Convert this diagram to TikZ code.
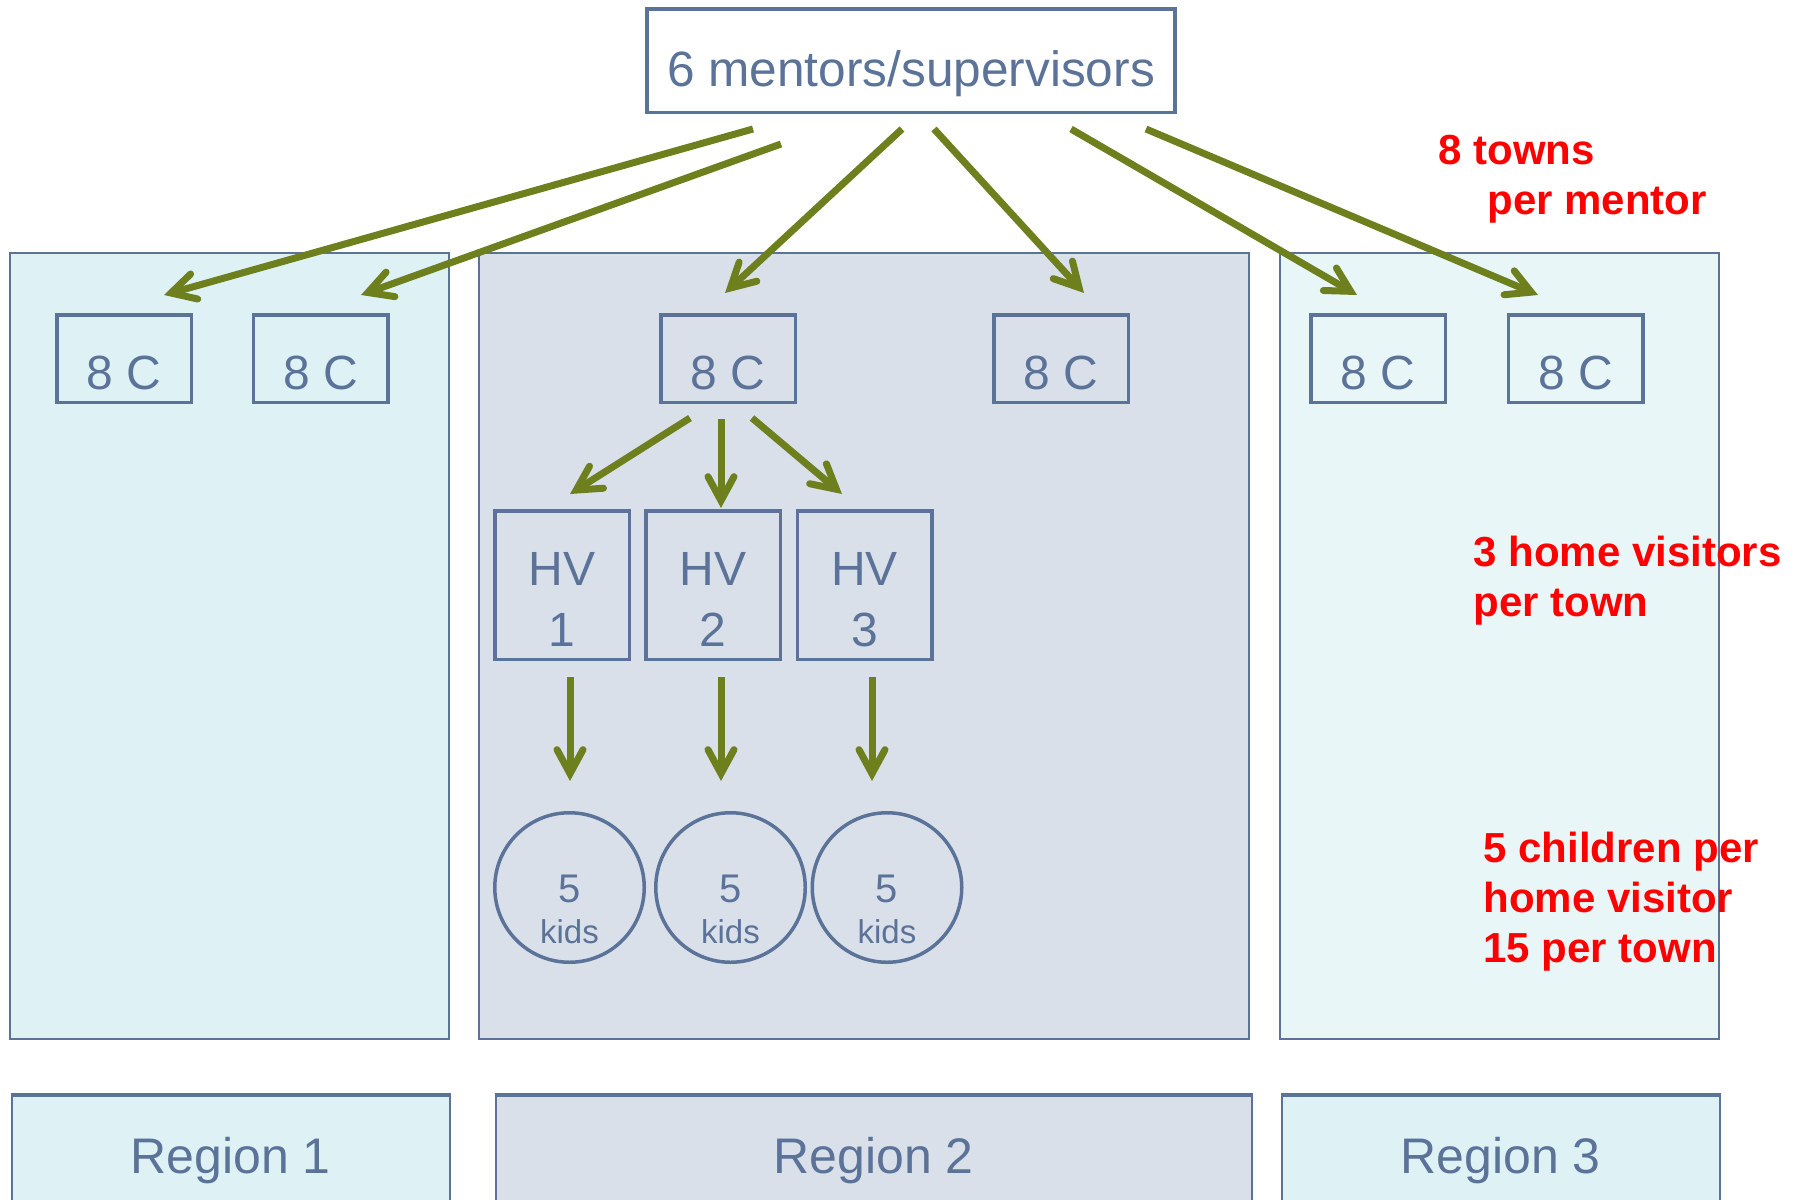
\documentclass[tikz,border=0pt]{standalone}
\usepackage{fontspec}
\setmainfont{Liberation Sans}
\usetikzlibrary{arrows.meta,calc}
\definecolor{bl}{RGB}{91,115,153}
\definecolor{olv}{RGB}{110,128,30}
\definecolor{cyanA}{RGB}{222,242,245}
\definecolor{cyanB}{RGB}{232,246,248}
\definecolor{greyB}{RGB}{217,224,234}
\definecolor{redT}{RGB}{255,0,0}
\begin{document}
\begin{tikzpicture}[x=0.5pt,y=-0.5pt,
  panel/.style={draw=bl, line width=1pt},
  topbox/.style={draw=bl, line width=1.75pt, rectangle, inner sep=0pt, text=bl,
    minimum width=264pt, minimum height=51.75pt,
    font=\fontsize{24.8}{28}\selectfont, text height=26pt, text depth=0pt},
  cbox/.style={draw=bl, line width=1.75pt, rectangle, inner sep=0pt, text=bl,
    minimum width=67.25pt, minimum height=43.75pt,
    font=\fontsize{24}{28}\selectfont, text height=30.7pt, text depth=0pt},
  hvbox/.style={draw=bl, line width=1.75pt, rectangle, inner sep=0pt, text=bl,
    minimum width=67.25pt, minimum height=74.25pt,
    font=\fontsize{24}{30.5}\selectfont, text height=30pt, text depth=30pt},
  kids/.style={draw=bl, line width=1.75pt, circle, inner sep=0pt, text=bl,
    minimum size=74.75pt,
    font=\fontsize{20}{20.5}\selectfont, text height=14.5pt, text depth=0pt},
  regbox/.style={draw=bl, line width=1pt, rectangle, inner sep=0pt, text=bl,
    minimum height=77pt,
    font=\fontsize{25}{28}\selectfont, text height=0pt, text depth=0pt},
  note/.style={text=redT, inner sep=0pt, anchor=base west,
    font=\bfseries\fontsize{21}{25.2}\selectfont},
  arr/.style={draw=olv, line width=3.5pt,
    -{Straight Barb[length=12pt,width=13pt,line cap=round,line join=miter]}}
]
\useasboundingbox (0,0) rectangle (1802,1199);
\fill[white] (0,0) rectangle (1802,1199);

% panels
\draw[panel, fill=cyanA] (10,253) rectangle (449,1039);
\draw[panel, fill=greyB] (479,253) rectangle (1249,1039);
\draw[panel, fill=cyanB] (1280,253) rectangle (1719,1039);

% top box
\node[topbox] (top) at (911,60.5) {6 mentors/supervisors};

% 8 C boxes
\node[cbox] (L1) at (124,358.5) {8 C};
\node[cbox] (L2) at (320.5,358.5) {8 C};
\node[cbox] (M1) at (728,358.5) {8 C};
\node[cbox] (M2) at (1061,358.5) {8 C};
\node[cbox] (R1) at (1378,358.5) {8 C};
\node[cbox] (R2) at (1575.5,358.5) {8 C};

% HV boxes
\node[hvbox] (hv1) at (562,585) {\begin{tabular}[t]{@{}c@{}}HV\\1\end{tabular}};
\node[hvbox] (hv2) at (713,585) {\begin{tabular}[t]{@{}c@{}}HV\\2\end{tabular}};
\node[hvbox] (hv3) at (864.5,585) {\begin{tabular}[t]{@{}c@{}}HV\\3\end{tabular}};

% kids
\node[kids] (k1) at (569.5,887.5) {\begin{tabular}[t]{@{}c@{}}5\\{\fontsize{16.5}{18}\selectfont kids}\end{tabular}};
\node[kids] (k2) at (730.5,887.5) {\begin{tabular}[t]{@{}c@{}}5\\{\fontsize{16.5}{18}\selectfont kids}\end{tabular}};
\node[kids] (k3) at (887,887.5) {\begin{tabular}[t]{@{}c@{}}5\\{\fontsize{16.5}{18}\selectfont kids}\end{tabular}};

% top arrows
\draw[arr] ($(top.south)+(-158,15)$) -- ($(L1.north)+(40,-18)$);
\draw[arr] ($(top.south)+(-130,30)$) -- ($(L2.north)+(40.5,-18)$);
\draw[arr] ($(top.south)+(-9,15)$) -- ($(M1.north)+(-3,-20)$);
\draw[arr] ($(top.south)+(23,15)$) -- ($(M2.north)+(23,-20)$);
\draw[arr] ($(top.south)+(160,15)$) -- ($(R1.north)+(-21,-18)$);
\draw[arr] ($(top.south)+(235,15)$) -- ($(R2.north)+(-37.5,-18)$);

% M1 -> HV arrows
\draw[arr] ($(M1.south)+(-38,14)$) -- ($(hv1.north)+(8,-15)$);
\draw[arr] ($(M1.south)+(-7,15)$) -- ($(hv2.north)+(8,-1)$);
\draw[arr] ($(M1.south)+(24,14)$) -- ($(hv3.north)+(-22.5,-15)$);

% HV -> kids arrows
\draw[arr] ($(hv1.south)+(8,16)$) -- ($(k1.north)+(0.5,-30)$);
\draw[arr] ($(hv2.south)+(8,16)$) -- ($(k2.north)+(-9.5,-30)$);
\draw[arr] ($(hv3.south)+(7.5,16)$) -- ($(k3.north)+(-15,-30)$);

% region boxes
\node[regbox, fill=cyanA, minimum width=219pt] (reg1) at (230.5,1173) {Region 1};
\node[regbox, fill=greyB, minimum width=378pt] (reg2) at (873.5,1173) {Region 2};
\node[regbox, fill=cyanA, minimum width=219pt] (reg3) at (1500.5,1173) {Region 3};
\foreach \r in {reg1,reg2,reg3}{
  \draw[bl, line width=2pt] (\r.north west) -- (\r.north east);
}

% red notes
\node[note] (n1) at (1438,164) {\begin{tabular}[t]{@{}l@{}}8 towns\\\hspace*{24.5pt}per mentor\end{tabular}};
\node[note] (n2) at (1473,566) {\begin{tabular}[t]{@{}l@{}}3 home visitors\\per town\end{tabular}};
\node[note] (n3) at (1483,862) {\begin{tabular}[t]{@{}l@{}}5 children per\\home visitor\\15 per town\end{tabular}};
\end{tikzpicture}
\end{document}
